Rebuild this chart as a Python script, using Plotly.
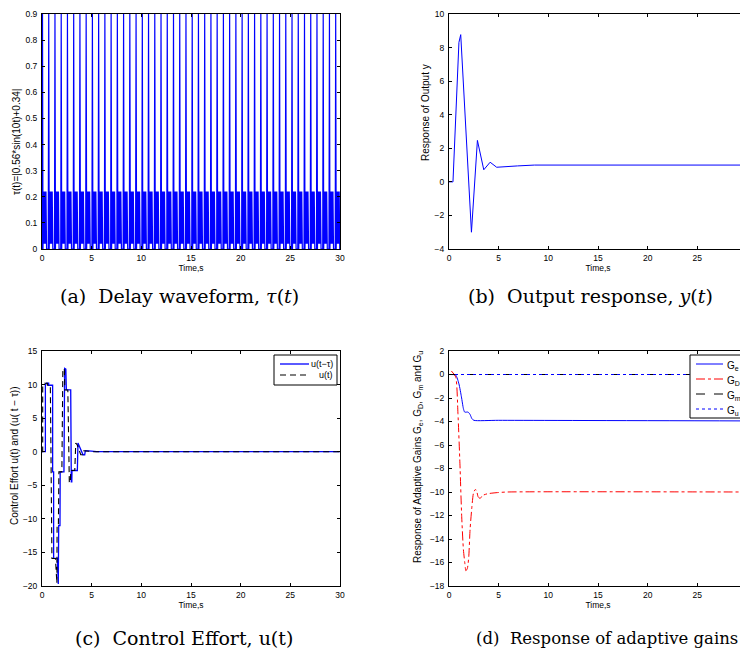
import plotly.graph_objects as go

# ---------------- data ----------------
# (a) delay waveform: one cycle shape, repeated every period
tau_period = 0.628
tau_cycles = 48
tau_cycle_offset = [0.00, 0.05, 0.10, 0.16, 0.22, 0.28, 0.34, 0.40, 0.46]
tau_cycle_value = [0.00, 0.90, 0.00, 0.22, 0.02, 0.22, 0.02, 0.22, 0.00]

# (b) output response y(t)
y_t = [0, 0.40, 1.00, 1.18, 2.26, 2.86, 3.50, 4.14, 4.80, 5.55, 6.90, 8.60, 10, 30]
y_v = [0, 0.00, 8.31, 8.77, -3.00, 2.47, 0.72, 1.17, 0.87, 0.91, 0.95, 1.00, 1.0, 1.0]

# (c) control effort
ud_t = [0, 0.34, 0.34, 0.45, 0.67, 0.67, 1.07, 1.07, 1.17, 1.17, 1.54, 1.61, 1.64, 1.68, 1.81,
        1.83, 2.21, 2.28, 2.40, 2.45, 2.89, 2.95, 3.00, 3.02, 3.56, 3.62, 3.79, 4.13, 4.30, 4.36,
        4.97, 5.50, 30]
ud_v = [0, 0, 10.0, 10.2, 10.2, 9.9, 9.9, -3.0, -3.0, -15.9, -15.9, -19.7, -19.7, -11.0, -11.0,
        -3.0, -3.0, 12.4, 12.3, 9.25, 9.2, -4.5, -4.5, -2.8, -2.8, 1.3, 0.7, -0.45, -0.45, 0.15,
        0.1, 0.0, 0.0]
u_t = [0, 0.07, 0.07, 0.25, 0.54, 0.54, 0.84, 0.90, 0.95, 1.00, 1.35, 1.45, 1.50, 1.52, 1.65,
       1.70, 2.00, 2.10, 2.25, 2.30, 2.60, 2.75, 2.85, 2.90, 3.30, 3.40, 3.55, 3.90, 4.10, 4.15,
       4.80, 5.20, 30]
u_v = [0, 0, 10.0, 10.2, 10.2, 9.9, 9.9, -3.0, -3.0, -15.9, -15.9, -19.6, -19.6, -11.0, -11.0,
       -3.0, -3.0, 12.4, 12.2, 9.2, 9.2, -4.6, -4.6, -2.8, -2.8, 1.3, 1.0, -0.45, -0.45, 0.15,
       0.1, 0.0, 0.0]

# (d) adaptive gains
ge_t = [0, 0.67, 1.00, 1.25, 1.45, 1.58, 1.92, 2.12, 2.30, 2.50, 5, 30]
ge_v = [0, -0.05, -0.8, -1.9, -2.9, -3.2, -3.2, -3.4, -3.75, -3.9, -3.9, -3.95]
gd_t = [0.24, 0.67, 0.90, 1.10, 1.28, 1.45, 1.60, 1.70, 1.85, 1.99, 2.12, 2.30, 2.46, 2.63,
        2.76, 2.93, 3.13, 3.37, 3.87, 4.88, 5.90, 30]
gd_v = [0.3, -0.2, -3.3, -7.6, -12.1, -14.9, -16.1, -16.7, -16.5, -15.5, -13.2, -11.3, -10.1,
        -9.8, -9.85, -10.4, -10.55, -10.3, -10.15, -10.05, -10.0, -10.0]
gm_t = [0, 30]
gm_v = [0, 0]
gu_t = [0, 30]
gu_v = [0, 0]

# tick values
a_yticks = [0, 0.1, 0.2, 0.3, 0.4, 0.5, 0.6, 0.7, 0.8, 0.9]
b_yticks = [-4, -2, 0, 2, 4, 6, 8, 10]
c_yticks = [-20, -15, -10, -5, 0, 5, 10, 15]
d_yticks = [-18, -16, -14, -12, -10, -8, -6, -4, -2, 0, 2]
x_ticks = [0, 5, 10, 15, 20, 25, 30]

# build the repeated delay waveform
tau_t, tau_v = [], []
for k in range(tau_cycles):
    for off, val in zip(tau_cycle_offset, tau_cycle_value):
        t = k * tau_period + off
        if t <= 30:
            tau_t.append(t)
            tau_v.append(val)

# ---------------- geometry helpers (page has an 8px body margin) ----------------
OFF = 8
FW, FH = 740, 642


def X(px):
    return (px - OFF) / FW


def Y(py):
    return 1 - (py - OFF) / FH


BLUE = "#0000FF"
RED = "#FF0000"
fig = go.Figure()

fig.add_trace(go.Scatter(x=tau_t, y=tau_v, mode="lines", line=dict(color=BLUE, width=1.2),
                         xaxis="x", yaxis="y", showlegend=False))
fig.add_trace(go.Scatter(x=y_t, y=y_v, mode="lines", line=dict(color=BLUE, width=1),
                         xaxis="x2", yaxis="y2", showlegend=False))
fig.add_trace(go.Scatter(x=ud_t, y=ud_v, mode="lines", name="u(t\u2212\u03c4)",
                         line=dict(color=BLUE, width=1.3), xaxis="x3", yaxis="y3",
                         showlegend=False))
fig.add_trace(go.Scatter(x=u_t, y=u_v, mode="lines", name="u(t)",
                         line=dict(color="black", width=1.1, dash="6px,4px"), xaxis="x3", yaxis="y3",
                         showlegend=False))
fig.add_trace(go.Scatter(x=ge_t, y=ge_v, mode="lines", name="G<sub>e</sub>",
                         line=dict(color=BLUE, width=1, shape="spline", smoothing=0.6),
                         xaxis="x4", yaxis="y4", showlegend=False))
fig.add_trace(go.Scatter(x=gd_t, y=gd_v, mode="lines", name="G<sub>D</sub>",
                         line=dict(color=RED, width=1, dash="dashdot", shape="spline", smoothing=0.6),
                         xaxis="x4", yaxis="y4", showlegend=False))
fig.add_trace(go.Scatter(x=gm_t, y=gm_v, mode="lines", name="G<sub>m</sub>",
                         line=dict(color="black", width=1, dash="dash"),
                         xaxis="x4", yaxis="y4", showlegend=False))
fig.add_trace(go.Scatter(x=gu_t, y=gu_v, mode="lines", name="G<sub>u</sub>",
                         line=dict(color=BLUE, width=1, dash="dot"),
                         xaxis="x4", yaxis="y4", showlegend=False))

TICKF = dict(family="Liberation Sans, Arial", size=8.5, color="black")
TITLEF = dict(family="Liberation Sans, Arial", size=8.5, color="black")


def xaxis(dom, anchor):
    return dict(domain=dom, anchor=anchor, range=[0, 30], tickvals=x_ticks,
                ticks="inside", ticklen=3, tickcolor="black", mirror="allticks",
                showline=True, linecolor="black", linewidth=1, showgrid=False, zeroline=False,
                tickfont=TICKF, ticklabelstandoff=1, ticklabeloverflow="allow",
                title=dict(text="Time,s", font=TITLEF, standoff=2),
                automargin=False)


def yaxis(dom, anchor, rng, tv):
    return dict(domain=dom, anchor=anchor, range=rng, tickvals=tv,
                ticks="inside", ticklen=3, tickcolor="black", mirror="allticks",
                showline=True, linecolor="black", linewidth=1, showgrid=False, zeroline=False,
                tickfont=TICKF, ticklabelstandoff=2, automargin=False)


xa = [X(42), X(340)]
xb = [X(449), X(747)]
ya = [Y(249), Y(14)]
yc = [Y(586), Y(351)]

fig.update_layout(
    width=FW, height=FH, margin=dict(l=0, r=0, t=0, b=0),
    paper_bgcolor="white", plot_bgcolor="white", showlegend=False,
    xaxis=xaxis(xa, "y"),
    yaxis=yaxis(ya, "x", [0, 0.9], a_yticks),
    xaxis2=xaxis(xb, "y2"),
    yaxis2=yaxis(ya, "x2", [-4, 10], b_yticks),
    xaxis3=xaxis(xa, "y3"),
    yaxis3=yaxis(yc, "x3", [-20, 15], c_yticks),
    xaxis4=xaxis(xb, "y4"),
    yaxis4=yaxis(yc, "x4", [-18, 2], d_yticks),
)

# y-axis titles
YTF = dict(family="Liberation Sans, Arial", size=10, color="black")
ytitles = [
    ("\u03c4(t)=|0.56*sin(10t)+0.34|", 16, 142),
    ("Response of Output y", 426, 113),
    ("Control Effort u(t) and (u( t \u2212 \u03c4))", 14, 456),
    ("Response of Adaptive Gains G<sub>e</sub>, G<sub>D</sub>, G<sub>m</sub> and G<sub>u</sub>", 418, 457),
]
for txt, cx, cy in ytitles:
    fig.add_annotation(text=txt, x=X(cx), y=Y(cy), xref="paper", yref="paper", textangle=-90,
                       xanchor="center", yanchor="middle", showarrow=False, font=YTF)

# legend boxes (drawn as in the reference)
LGF9 = dict(family="Liberation Sans, Arial", size=9, color="black")
LGF10 = dict(family="Liberation Sans, Arial", size=10, color="black")
shapes = []
shapes.append(dict(type="rect", xref="paper", yref="paper", x0=X(274), x1=X(337), y0=Y(385), y1=Y(355),
                   line=dict(color="black", width=1), fillcolor="white", layer="above"))
shapes.append(dict(type="rect", xref="paper", yref="paper", x0=X(690), x1=X(746.5), y0=Y(418), y1=Y(355),
                   line=dict(color="black", width=1), fillcolor="white", layer="above"))
c_leg = [("u(t\u2212\u03c4)", BLUE, "solid", 1.3, 364),
         ("u(t)", "black", "6px,4px", 1.1, 375)]
for txt, col, dash, w, ry in c_leg:
    shapes.append(dict(type="line", xref="paper", yref="paper", x0=X(280), x1=X(309), y0=Y(ry), y1=Y(ry),
                       line=dict(color=col, width=w, dash=dash), layer="above"))
    fig.add_annotation(text=txt, x=X(335), y=Y(ry), xref="paper", yref="paper",
                       xanchor="right", yanchor="middle", showarrow=False, font=LGF9)
d_leg = [("G<sub>e</sub>", BLUE, "solid", 364),
         ("G<sub>D</sub>", RED, "dashdot", 379),
         ("G<sub>m</sub>", "black", "dash", 394),
         ("G<sub>u</sub>", BLUE, "dot", 409)]
for txt, col, dash, ry in d_leg:
    shapes.append(dict(type="line", xref="paper", yref="paper", x0=X(696), x1=X(723), y0=Y(ry), y1=Y(ry),
                       line=dict(color=col, width=1, dash=dash), layer="above"))
    fig.add_annotation(text=txt, x=X(724.5), y=Y(ry + 1.5), xref="paper", yref="paper",
                       xanchor="left", yanchor="middle", showarrow=False, font=LGF10)
fig.update_layout(shapes=shapes)

# sub-figure captions
SP = "\u00a0\u00a0"
captions = [
    ("(a)" + SP + "Delay waveform, <i>\u03c4</i>(<i>t</i>)", 179, 296, 19),
    ("(b)" + SP + "Output response, <i>y</i>(<i>t</i>)", 590, 296, 19),
    ("(c)" + SP + "Control Effort, u(t)", 184, 638, 19),
    ("(d)" + SP + "Response of adaptive gains", 607, 638, 16.5),
]
for txt, cx, cy, fs in captions:
    fig.add_annotation(text=txt, x=X(cx), y=Y(cy), xref="paper", yref="paper",
                       xanchor="center", yanchor="middle", showarrow=False,
                       font=dict(family="DejaVu Serif", size=fs, color="black"))

fig.write_html("out.html")
